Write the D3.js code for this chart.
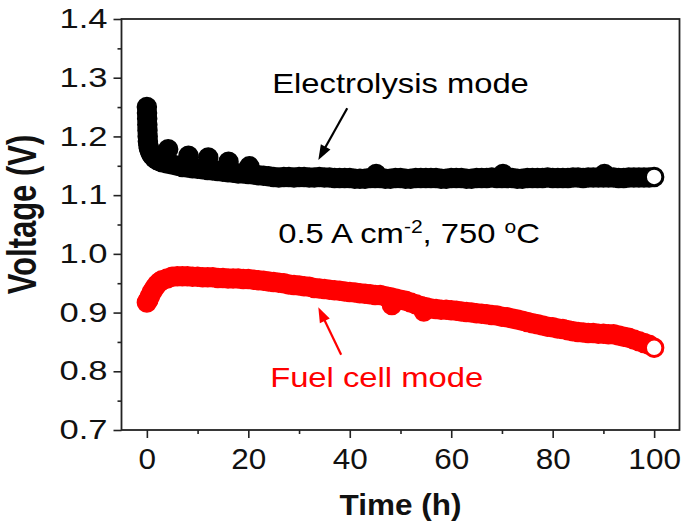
<!DOCTYPE html>
<html><head><meta charset="utf-8">
<script src="https://cdn.jsdelivr.net/npm/d3@7/dist/d3.min.js"></script>
<style>body{margin:0;background:#fff}svg{display:block}</style>
</head><body><svg id="c" width="685" height="524"></svg>
<script>
// ---------- data ----------
const xTicks = [0, 20, 40, 60, 80, 100];
const xMinorTicks = [10, 30, 50, 70, 90];
const yTicks = [0.7, 0.8, 0.9, 1.0, 1.1, 1.2, 1.3, 1.4];
const yMinorTicks = [0.75, 0.85, 0.95, 1.05, 1.15, 1.25, 1.35];

// Electrolysis mode (black)
const elecEarlyTime = [0,0.03,0.06,0.09,0.12,0.16,0.2,0.3,0.4,0.6,0.8,1,1.5,2,2.5,3,4,5,6,7,8,9,10,11,12,13,14,15,16,17,18,19,20,21,22,23,24,25];
const elecEarlyVoltage = [1.250,1.240,1.230,1.220,1.210,1.200,1.192,1.185,1.180,1.175,1.171,1.168,1.163,1.160,1.158,1.156,1.154,1.152,1.150,1.148,1.147,1.146,1.145,1.144,1.143,1.142,1.141,1.140,1.139,1.138,1.137,1.137,1.136,1.135,1.134,1.133,1.132,1.131];
const elecSteadyTime = [26,27,28,29,30,31,32,33,34,35,36,37,38,39,40,41,42,43,44,45,46,47,48,49,50,51,52,53,54,55,56,57,58,59,60,61,62,63,64,65,66,67,68,69,70,71,72,73,74,75,76,77,78,79,80,81,82,83,84,85,86,87,88,89,90,91,92,93,94,95,96,97,98,99,100];
const elecSteadyVoltage = [1.130,1.131,1.131,1.130,1.131,1.131,1.130,1.130,1.131,1.130,
  1.130,1.129,1.129,1.129,1.129,1.128,1.128,1.128,1.129,1.129,
  1.129,1.128,1.128,1.129,1.129,1.128,1.128,1.129,1.129,1.129,
  1.129,1.129,1.128,1.128,1.129,1.129,1.129,1.128,1.128,1.129,
  1.129,1.129,1.130,1.129,1.129,1.129,1.129,1.128,1.128,1.129,
  1.129,1.129,1.129,1.130,1.129,1.129,1.129,1.129,1.130,1.130,
  1.129,1.130,1.130,1.130,1.130,1.130,1.130,1.129,1.129,1.130,
  1.130,1.130,1.130,1.130,1.131];
const elecBumpTime = [4.2, 8.2, 12.1, 16.1, 20.2, 45.2, 70.2, 90.2];
const elecBumpVoltage = [1.178, 1.167, 1.164, 1.157, 1.149, 1.136, 1.136, 1.136];

// Fuel cell mode (red)
const fuelEarlyTime = [0,0.3,0.6,1,1.5,2,2.5,3];
const fuelEarlyVoltage = [0.917,0.922,0.928,0.935,0.942,0.948,0.952,0.955];
const fuelMainTime = [4,5,6,7,8,9,10,11,12,13,14,15,16,17,18,19,20,21,22,23,24,25,26,27,28,29,30,31,32,33,34,35,36,37,38,39,40,41,42,43,44,45,46,47,48,49,50,51,52,53,54,55,56,57,58,59,60,61,62,63,64,65,66,67,68,69,70,71,72,73,74,75,76,77,78,79,80,81,82,83,84,85,86,87,88,89,90,91,92,93,94,95,96,97,98,99,100];
const fuelMainVoltage = [0.958,0.961,0.962,0.962,0.962,0.961,0.961,0.960,0.960,0.960,
  0.959,0.959,0.958,0.958,0.958,0.957,0.957,0.956,0.955,0.954,
  0.953,0.952,0.951,0.950,0.948,0.947,0.946,0.945,0.944,0.942,
  0.941,0.940,0.939,0.938,0.937,0.936,0.935,0.934,0.933,0.932,
  0.931,0.930,0.930,0.928,0.926,0.924,0.922,0.920,0.917,0.914,
  0.911,0.909,0.907,0.906,0.905,0.905,0.904,0.903,0.902,0.901,
  0.900,0.899,0.898,0.897,0.896,0.895,0.893,0.892,0.890,0.888,
  0.886,0.884,0.882,0.880,0.878,0.876,0.875,0.873,0.872,0.870,
  0.868,0.867,0.866,0.865,0.865,0.864,0.864,0.863,0.863,0.861,
  0.859,0.857,0.854,0.851,0.848,0.845,0.840];
const fuelDipTime = [48.3, 54.6];
const fuelDipVoltage = [0.913, 0.902];

// ---------- chart ----------
const FONT = "'Liberation Sans', Arial, Helvetica, sans-serif";
const svg = d3.select("#c");
const x = d3.scaleLinear().domain([-5, 105]).range([121.5, 679.5]);
const y = d3.scaleLinear().domain([0.7, 1.4]).range([430, 19]);
const [x0, x1] = x.range();
const [yb, yt] = y.range();

function zip(t, v) { return t.map((d, i) => ({t: d, v: v[i]})); }
const elecAll = zip(elecEarlyTime, elecEarlyVoltage).concat(zip(elecSteadyTime, elecSteadyVoltage), zip(elecBumpTime, elecBumpVoltage));
const fuelAll = zip(fuelEarlyTime, fuelEarlyVoltage).concat(zip(fuelMainTime, fuelMainVoltage), zip(fuelDipTime, fuelDipVoltage));

// series
function drawSeries(data, color) {
  svg.append("g").selectAll("circle").data(data).join("circle")
    .attr("cx", d => x(d.t)).attr("cy", d => y(d.v)).attr("r", 9.5)
    .attr("fill", color).attr("stroke", color).attr("stroke-width", 1.5);
}
drawSeries(fuelAll, "#ff0000");
drawSeries(elecAll, "#000000");
// last points (open)
const elecLast = {t: elecSteadyTime[elecSteadyTime.length-1], v: elecSteadyVoltage[elecSteadyVoltage.length-1]};
const fuelLast = {t: fuelMainTime[fuelMainTime.length-1], v: fuelMainVoltage[fuelMainVoltage.length-1]};
svg.append("circle").attr("cx", x(elecLast.t)).attr("cy", y(elecLast.v)).attr("r", 8)
  .attr("fill", "#fff").attr("stroke", "#000").attr("stroke-width", 1.6);
svg.append("circle").attr("cx", x(fuelLast.t)).attr("cy", y(fuelLast.v)).attr("r", 8)
  .attr("fill", "#fff").attr("stroke", "#ff0000").attr("stroke-width", 1.6);

// frame
svg.append("rect").attr("x", x0).attr("y", yt).attr("width", x1 - x0).attr("height", yb - yt)
  .attr("fill", "none").attr("stroke", "#222").attr("stroke-width", 1.8);

// axes
const ySX = 1.28, xSX = 1.05;
const gy = svg.append("g").attr("transform", `translate(${x0},0)`)
  .call(d3.axisLeft(y).tickValues(yTicks).tickSize(8).tickSizeOuter(0).tickFormat(d3.format(".1f")));
gy.select(".domain").remove();
gy.selectAll("line").attr("stroke", "#222").attr("stroke-width", 1.6);
gy.selectAll("text").attr("font-family", FONT).attr("font-size", 27).attr("fill", "#111")
  .attr("x", -14 / ySX).attr("transform", `scale(${ySX},1)`);
const gym = svg.append("g").attr("transform", `translate(${x0},0)`)
  .call(d3.axisLeft(y).tickValues(yMinorTicks).tickSize(4).tickSizeOuter(0).tickFormat(""));
gym.select(".domain").remove();
gym.selectAll("line").attr("stroke", "#222").attr("stroke-width", 1.6);

const gx = svg.append("g").attr("transform", `translate(0,${yb})`)
  .call(d3.axisBottom(x).tickValues(xTicks).tickSize(8).tickSizeOuter(0).tickPadding(10).tickFormat(d3.format("d")));
gx.select(".domain").remove();
gx.selectAll("line").attr("stroke", "#222").attr("stroke-width", 1.6);
gx.selectAll("text").attr("font-family", FONT).attr("font-size", 30).attr("fill", "#111")
  .attr("transform", `scale(${xSX},1)`);
const gxm = svg.append("g").attr("transform", `translate(0,${yb})`)
  .call(d3.axisBottom(x).tickValues(xMinorTicks).tickSize(4).tickSizeOuter(0).tickFormat(""));
gxm.select(".domain").remove();
gxm.selectAll("line").attr("stroke", "#222").attr("stroke-width", 1.6);

// axis titles
svg.append("text").attr("transform", `translate(${x(50)},515) scale(1.05,1)`)
  .attr("text-anchor", "middle").attr("font-family", FONT).attr("font-weight", "bold")
  .attr("font-size", 30).attr("fill", "#111").text("Time (h)");
svg.append("text").attr("transform", `translate(36,${(yt + yb) / 2 - 10}) rotate(-90) scale(1,1.3)`)
  .attr("text-anchor", "middle").attr("font-family", FONT).attr("font-weight", "bold")
  .attr("font-size", 31).attr("fill", "#111").text("Voltage (V)");

// annotations
const annSX = 1.17;
function label(t, v, txt, color) {
  return svg.append("text").attr("transform", `translate(${x(t)},${y(v)}) scale(${annSX},1)`)
    .attr("font-family", FONT).attr("font-size", 28).attr("fill", color).text(txt);
}
label(24.7, 1.274, "Electrolysis mode", "#000");
label(24.3, 0.773, "Fuel cell mode", "#ff0000");
const cond = svg.append("text").attr("transform", `translate(${x(25.9)},${y(1.0184)}) scale(${annSX},1)`)
  .attr("font-family", FONT).attr("font-size", 28).attr("fill", "#000");
cond.append("tspan").text("0.5 A cm");
cond.append("tspan").attr("font-size", 18).attr("dy", -10).text("-2");
cond.append("tspan").attr("dy", 10).text(", 750 ");
cond.append("tspan").attr("font-size", 18).attr("dy", -10).text("o");
cond.append("tspan").attr("dy", 10).text("C");

function arrow(ta, va, tb, vb, color) {
  const ax = x(ta), ay = y(va), bx = x(tb), by = y(vb);
  const dx = bx - ax, dy = by - ay, L = Math.hypot(dx, dy);
  const ux = dx / L, uy = dy / L, hl = 15, hw = 5.5;
  const sx = bx - ux * hl, sy = by - uy * hl;
  svg.append("line").attr("x1", ax).attr("y1", ay).attr("x2", sx + ux * 2).attr("y2", sy + uy * 2)
    .attr("stroke", color).attr("stroke-width", 2.2);
  svg.append("path").attr("d", `M${bx},${by}L${sx - uy * hw},${sy + ux * hw}L${sx + uy * hw},${sy - ux * hw}Z`)
    .attr("fill", color);
}
arrow(39.5, 1.248, 33.8, 1.160, "#000");
arrow(38.3, 0.828, 33.8, 0.909, "#ff0000");
</script></body></html>
